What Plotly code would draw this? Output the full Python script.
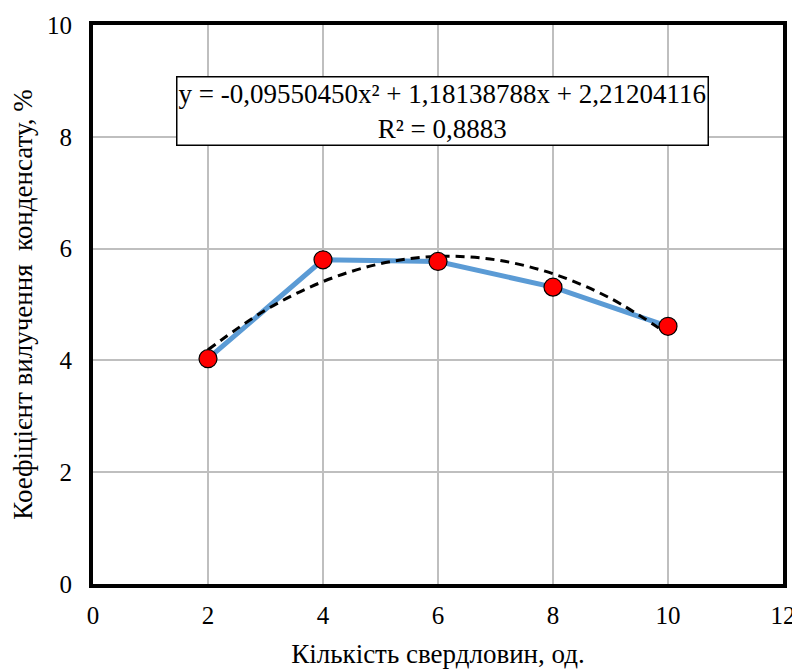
import plotly.graph_objects as go

wells = [2, 4, 6, 8, 10]
recovery = [4.03, 5.80, 5.77, 5.31, 4.61]

trend_x = [2, 3, 4, 5, 6, 7, 8, 9, 10]
trend_y = [4.19, 4.90, 5.41, 5.73, 5.86, 5.80, 5.55, 5.11, 4.47]

x_ticks = [0, 2, 4, 6, 8, 10, 12]
y_ticks = [0, 2, 4, 6, 8, 10]

eq_text = "y = -0,09550450x² + 1,18138788x + 2,21204116<br>R² = 0,8883"

FONT = "Liberation Serif, Times New Roman, serif"
TICK_FS = 25
TITLE_FS = 27

fig = go.Figure()
fig.add_trace(go.Scatter(
    x=wells, y=recovery, mode="lines",
    line=dict(color="#5B9BD5", width=5),
    showlegend=False, hoverinfo="skip"))
fig.add_trace(go.Scatter(
    x=trend_x, y=trend_y, mode="lines",
    line=dict(color="black", width=3, dash="9px,6px", shape="spline"),
    showlegend=False, hoverinfo="skip"))
fig.add_trace(go.Scatter(
    x=wells, y=recovery, mode="markers",
    marker=dict(color="#FF0000", size=18, line=dict(color="black", width=1.2)),
    showlegend=False))

fig.add_annotation(
    x=0.5065, y=0.847, xref="paper", yref="paper",
    xanchor="center", yanchor="middle",
    text=eq_text, showarrow=False, align="center",
    font=dict(family=FONT, size=TITLE_FS, color="black"),
    bgcolor="white", bordercolor="black", borderwidth=1.5, borderpad=1)

fig.update_xaxes(
    range=[0, 12], tickvals=x_ticks, ticktext=[str(v) for v in x_ticks],
    showgrid=True, gridcolor="#BFBFBF", gridwidth=1.5,
    showline=True, linecolor="black", linewidth=4, mirror=True,
    ticks="", zeroline=False, automargin=False, ticklabelstandoff=6,
    tickfont=dict(family=FONT, size=TICK_FS, color="black"),
    title=dict(text="Кількість свердловин, од.", font=dict(family=FONT, size=TITLE_FS, color="black"), standoff=18))
fig.update_yaxes(
    range=[0, 10], tickvals=y_ticks, ticktext=[str(v) for v in y_ticks],
    showgrid=True, gridcolor="#BFBFBF", gridwidth=1.5,
    showline=True, linecolor="black", linewidth=4, mirror=True,
    ticks="", zeroline=False, automargin=False, ticklabelstandoff=12,
    tickfont=dict(family=FONT, size=TICK_FS, color="black"),
    title=dict(text="Коефіцієнт вилучення  конденсату, %", font=dict(family=FONT, size=TITLE_FS, color="black"), standoff=14))

fig.update_layout(
    width=792, height=661,
    margin=dict(l=85, r=17, t=17, b=85),
    plot_bgcolor="white", paper_bgcolor="white",
    font=dict(family=FONT, size=TICK_FS, color="black"))

fig.write_html("out.html")
